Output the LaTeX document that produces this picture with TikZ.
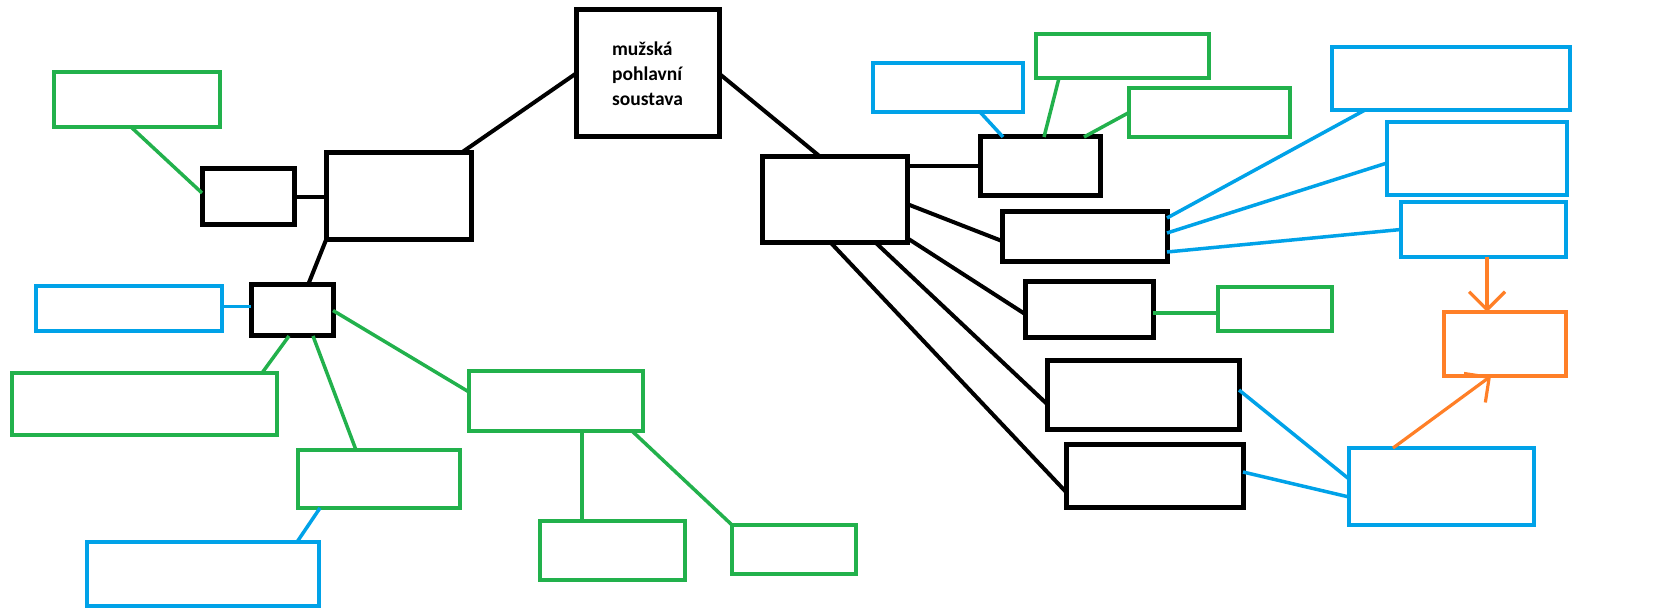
\documentclass[tikz,border=0pt]{standalone}
\usepackage{fontspec}
\setmainfont{Carlito}
\usetikzlibrary{calc,arrows.meta}
\definecolor{pgreen}{HTML}{22B14C}
\definecolor{pblue}{HTML}{00A2E8}
\definecolor{porange}{HTML}{FF7F27}
\tikzset{
  kbox/.style={draw=black,line width=2.5pt,inner sep=0pt,outer sep=0pt},
  gbox/.style={draw=pgreen,line width=2pt,inner sep=0pt,outer sep=0pt},
  bbox/.style={draw=pblue,line width=2pt,inner sep=0pt,outer sep=0pt},
  obox/.style={draw=porange,line width=2pt,inner sep=0pt,outer sep=0pt},
  kl/.style={draw=black,line width=2pt},
  gl/.style={draw=pgreen,line width=1.75pt},
  bl/.style={draw=pblue,line width=1.75pt},
  ol/.style={draw=porange,line width=1.6pt,-{Straight Barb[length=9pt,width=18pt]}},
}
\newcommand\pbox[6]{\node[#6,anchor=north west,minimum width={(#4-#2)*0.5pt},minimum height={(#5-#3)*0.5pt}] (#1) at (#2,#3) {};}
\begin{document}
\begin{tikzpicture}[x=0.5pt,y=-0.5pt]
\useasboundingbox (0,0) rectangle (1679,608);
% main box
\node[kbox,anchor=north west,minimum width={143*0.5pt},minimum height={127*0.5pt},
  font=\fontsize{9.75pt}{12.5pt}\selectfont\bfseries,align=left] (main) at (576,10)
  {mužská\\pohlavní\\soustava};
% left side
\pbox{Gtl}{54}{72}{220}{127}{gbox}
\pbox{A}{202}{169}{294}{225}{kbox}
\pbox{L}{326}{153}{471}{240}{kbox}
\pbox{B}{251}{285}{333}{336}{kbox}
\pbox{C}{36}{286}{222}{331}{bbox}
\pbox{D}{12}{373}{277}{435}{gbox}
\pbox{E}{298}{450}{460}{508}{gbox}
\pbox{F}{87}{542}{319}{606}{bbox}
\pbox{G}{469}{371}{643}{431}{gbox}
\pbox{H}{540}{521}{685}{580}{gbox}
\pbox{I}{732}{525}{856}{574}{gbox}
% right side
\pbox{R}{762}{157}{907}{243}{kbox}
\pbox{J}{873}{63}{1023}{112}{bbox}
\pbox{K}{1036}{34}{1209}{78}{gbox}
\pbox{LL}{1129}{88}{1290}{137}{gbox}
\pbox{M}{980}{137}{1100}{196}{kbox}
\pbox{N}{1002}{212}{1167}{262}{kbox}
\pbox{O}{1332}{47}{1570}{110}{bbox}
\pbox{P}{1387}{122}{1567}{195}{bbox}
\pbox{Q}{1401}{202}{1566}{257}{bbox}
\pbox{S}{1025}{282}{1153}{338}{kbox}
\pbox{T}{1218}{287}{1332}{331}{gbox}
\pbox{U}{1444}{312}{1566}{376}{obox}
\pbox{V}{1047}{361}{1239}{430}{kbox}
\pbox{W}{1066}{445}{1243}{507}{kbox}
\pbox{X}{1349}{448}{1534}{525}{bbox}
% connectors left
\draw[kl] ($(L.north east)+(-10,0)$) -- (main.west);
\draw[kl] (main.east) -- ($(R.north)+(-14,0)$);
\draw[gl] ($(Gtl.south)+(-6,0)$) -- ($(A.west)+(0,-4)$);
\draw[kl] (A.east) -- (A.east -| L.west);
\draw[kl] (L.south west) -- ($(B.north)+(16,0)$);
\draw[bl] ($(B.west)+(0,-4)$) -- ($(B.west -| C.east)+(0,-4)$);
\draw[gl] ($(B.south)+(-3,0)$) -- ($(D.north)+(117.5,0)$);
\draw[gl] ($(B.south)+(21,0)$) -- ($(E.north)+(-23,0)$);
\draw[gl] (B.east) -- ($(G.west)+(0,-9)$);
\draw[bl] ($(E.south)+(-59,0)$) -- ($(F.north)+(94,0)$);
\draw[gl] ($(G.south)+(26,0)$) -- ($(H.north)+(-30.5,0)$);
\draw[gl] ($(G.south east)+(-11,0)$) -- (I.north west);
% connectors right
\draw[kl] (R.east |- M.west) -- (M.west);
\draw[bl] ($(M.north)+(-37,0)$) -- ($(J.south)+(32,0)$);
\draw[gl] ($(M.north)+(4,0)$) -- ($(K.south)+(-63.5,0)$);
\draw[gl] ($(M.north)+(44,0)$) -- (LL.west);
\draw[kl] ($(R.east)+(0,4)$) -- ($(N.west)+(0,4)$);
\draw[bl] ($(N.north east)+(0,6)$) -- ($(O.south west)+(33,0)$);
\draw[bl] ($(N.east)+(0,-4)$) -- ($(P.west)+(0,4.5)$);
\draw[bl] ($(N.east)+(0,15)$) -- (Q.west);
\draw[ol] ($(Q.south)+(3.5,0)$) -- ($(U.north)+(-18,0)$);
\draw[ol] ($(X.north)+(-48.5,0)$) -- ($(U.south)+(-14,0)$);
\draw[kl] ($(R.south east)+(0,-5)$) -- ($(S.west)+(0,4)$);
\draw[kl] ($(R.south)+(41.5,0)$) -- ($(V.west)+(0,8.5)$);
\draw[kl] ($(R.south)+(-3.5,0)$) -- ($(W.west)+(0,16)$);
\draw[gl] ($(S.east)+(0,3)$) -- ($(S.east -| T.west)+(0,3)$);
\draw[bl] ($(V.east)+(0,-5.5)$) -- ($(X.west)+(0,-7.5)$);
\draw[bl] ($(W.east)+(0,-4)$) -- ($(X.west)+(0,10.5)$);
\end{tikzpicture}
\end{document}
